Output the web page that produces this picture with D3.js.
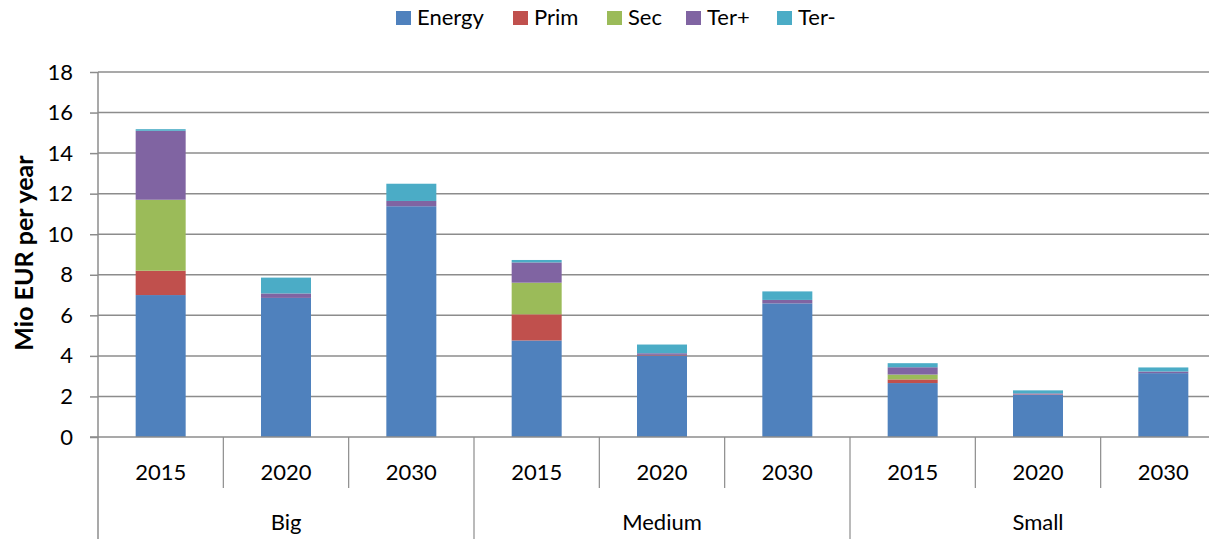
<!DOCTYPE html>
<html>
<head>
<meta charset="utf-8">
<script src="https://cdn.jsdelivr.net/npm/d3@7"></script>
<style>
  body { margin: 0; background: #fff; }
  text { font-family: Lato, "Open Sans", sans-serif; fill: #000; }
</style>
</head>
<body>
<script>
// chart data
var groups = ["Big", "Medium", "Small"];
var years = ["2015", "2020", "2030"];
var seriesNames = ["Energy", "Prim", "Sec", "Ter+", "Ter-"];
var colors = ["#4F81BD", "#C0504D", "#9BBB59", "#8064A2", "#4BACC6"];

// one value per bar, in order Big 2015..2030, Medium 2015..2030, Small 2015..2030
var energy = [7.0, 6.86, 11.38, 4.76, 4.02, 6.59, 2.66, 2.08, 3.15];
var prim   = [1.2, 0, 0, 1.29, 0.03, 0, 0.18, 0.02, 0];
var sec    = [3.5, 0, 0, 1.56, 0, 0, 0.24, 0, 0];
var terPlus  = [3.4, 0.22, 0.26, 1.0, 0.08, 0.17, 0.36, 0.05, 0.08];
var terMinus = [0.08, 0.78, 0.85, 0.12, 0.43, 0.42, 0.2, 0.15, 0.2];
var yTicks = [0, 2, 4, 6, 8, 10, 12, 14, 16, 18];

var W = 1209, H = 539;
var margin = { left: 98, top: 72, right: -17, bottom: 102 };
var plotW = W - margin.left - margin.right;
var plotH = H - margin.top - margin.bottom;

var svg = d3.select("body").append("svg")
  .attr("width", W)
  .attr("height", H);

var g = svg.append("g")
  .attr("transform", "translate(" + margin.left + "," + margin.top + ")");

// build table rows
var rows = [];
groups.forEach(function (grp, gi) {
  years.forEach(function (yr, yi) {
    var i = gi * 3 + yi;
    rows.push({
      key: grp + "-" + yr, group: grp, year: yr,
      "Energy": energy[i], "Prim": prim[i], "Sec": sec[i],
      "Ter+": terPlus[i], "Ter-": terMinus[i]
    });
  });
});

var y = d3.scaleLinear().domain([0, 18]).range([plotH, 0]);
var catW = plotW / rows.length;

// gridlines
g.selectAll(".grid")
  .data(yTicks.slice(1))
  .enter().append("line")
  .attr("x1", 0)
  .attr("x2", plotW)
  .attr("y1", function (d) { return y(d); })
  .attr("y2", function (d) { return y(d); })
  .attr("stroke", "#8c8c8c")
  .attr("stroke-width", 1.5);

// stacked bars
var stack = d3.stack().keys(seriesNames);
var layers = stack(rows);

var bw = 50;
g.selectAll(".layer")
  .data(layers)
  .enter().append("g")
  .attr("fill", function (d, i) { return colors[i]; })
  .selectAll("rect")
  .data(function (d) { return d; })
  .enter().append("rect")
  .attr("x", function (d, i) { return i * catW + catW / 2 - bw / 2; })
  .attr("width", bw)
  .attr("y", function (d) { return y(d[1]); })
  .attr("height", function (d) { return Math.max(0, y(d[0]) - y(d[1])); });

// y axis
var yAxis = g.append("g")
  .call(d3.axisLeft(y).tickValues(yTicks).tickSize(8).tickSizeOuter(0).tickPadding(17));
yAxis.select(".domain").remove();
yAxis.selectAll(".tick line").attr("stroke", "#8c8c8c").attr("stroke-width", 1.5);
yAxis.selectAll(".tick text").attr("font-size", "22px").attr("font-family", "Lato, sans-serif");

g.append("line")
  .attr("x1", 0).attr("x2", 0)
  .attr("y1", 0).attr("y2", H - margin.top)
  .attr("stroke", "#8c8c8c").attr("stroke-width", 1.5);

// x baseline
g.append("line")
  .attr("x1", -8).attr("x2", plotW)
  .attr("y1", plotH).attr("y2", plotH)
  .attr("stroke", "#8c8c8c").attr("stroke-width", 1.5);

// category dividers
rows.forEach(function (d, i) {
  if (i === 0) return;
  var isGroup = i % 3 === 0;
  g.append("line")
    .attr("x1", i * catW).attr("x2", i * catW)
    .attr("y1", plotH)
    .attr("y2", isGroup ? H - margin.top : plotH + 51)
    .attr("stroke", "#8c8c8c").attr("stroke-width", 1.2);
});

// year labels
g.selectAll(".yr")
  .data(rows)
  .enter().append("text")
  .attr("x", function (d, i) { return i * catW + catW / 2; })
  .attr("y", plotH + 43)
  .attr("text-anchor", "middle")
  .attr("font-size", "22px")
  .text(function (d) { return d.year; });

// group labels
g.selectAll(".grp")
  .data(groups)
  .enter().append("text")
  .attr("x", function (d, i) { return (i * 3 + 1.5) * catW; })
  .attr("y", plotH + 93)
  .attr("text-anchor", "middle")
  .attr("font-size", "22px")
  .text(function (d) { return d; });

// y title
svg.append("text")
  .attr("transform", "translate(33,253) rotate(-90)")
  .attr("text-anchor", "middle")
  .attr("font-size", "25px")
  .attr("font-weight", "bold")
  .text("Mio EUR per year");

// legend
var legendX = [396, 513, 607, 686, 777];
var legend = svg.selectAll(".legend")
  .data(seriesNames)
  .enter().append("g")
  .attr("transform", function (d, i) { return "translate(" + legendX[i] + ",0)"; });

legend.append("rect")
  .attr("y", 11)
  .attr("width", 15).attr("height", 14)
  .attr("fill", function (d, i) { return colors[i]; });

legend.append("text")
  .attr("x", 21)
  .attr("y", 25)
  .attr("font-size", "22px")
  .text(function (d) { return d; });
</script>
</body>
</html>
